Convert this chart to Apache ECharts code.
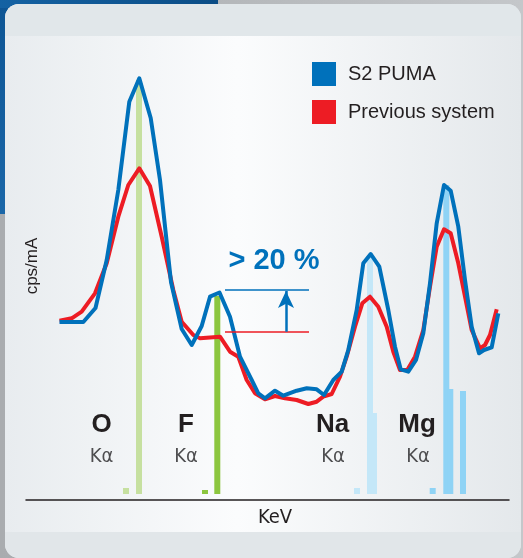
<!DOCTYPE html>
<html><head><meta charset="utf-8">
<script src="https://cdn.jsdelivr.net/npm/echarts@6/dist/echarts.min.js"></script>
<style>html,body{margin:0;padding:0;background:#bfc2c5;overflow:hidden}#c{width:523px;height:558px}</style>
</head><body><div id="c"></div>
<script>
// ---- data (channel units on the energy axis, counts on the intensity axis) ----
const seriesNames = ['S2 PUMA', 'Previous system'];
const pumaX = [59.5,83.3,95.5,106.7,118.3,129.3,139.3,150.7,160,171,181.7,191.7,201.7,210,219.5,230,240,251.7,258.3,265,275,283.3,296.7,306.7,316.7,324,333.3,341.7,348.3,356.7,363.3,370.7,379.3,388.3,395,400.7,408.3,416,423.3,430,436.7,444,450.7,458.3,465,471.7,479,484,491.7,498.3];
const pumaY = [178,178,192,240,310,398.3,421.7,382,320,218,171,155,174,203.3,207.5,183.3,143.3,120,106.7,101.7,109.3,104.3,109.3,111.7,110.7,105,120,128.3,150,190,236.7,246,233.3,190,153.3,130.7,128.3,140,166.7,216.7,276.7,315,309.3,273.3,220,173.3,146.7,150,152.7,186.7];
const prevX = [59.5,71.7,81.7,95,106.7,118.3,128.3,139.3,150,161.7,173.3,181.7,193.3,200,220,230,238.3,246.7,255,265,275,285,296.7,308.3,316.7,323.3,331.7,340,346.7,355,362.3,370,378.3,386.7,393.3,400,407.3,415,423.3,430,436.7,444,450.7,458.3,465,471.7,480,485,490,496.7];
const prevY = [179.3,181.7,188.3,206.7,236.7,283.3,315,331.7,314,263.3,210,178.3,165,161.7,163.3,148.3,143.3,120,106.7,100.7,104,101.7,100,96,98.3,103.3,106,123.3,143.3,173.3,196.7,203.3,193.3,173.3,148.3,130,130,143.3,170,213.3,253.3,270.7,266.7,236.7,203.3,170,151.7,155,165,190.7];
// emission lines: positions and heights
const oLinesX = [126, 139];            const oLinesH = [12, 420];
const fLinesX = [205, 217.3];          const fLinesH = [10, 204];
const naLinesX = [357, 370, 374];      const naLinesH = [12, 245, 87];
const mgLinesX = [432.7, 446.3, 450.3, 463]; const mgLinesH = [12, 315, 111, 109];
const elementNames = ['O', 'F', 'Na', 'Mg'];
const lineName = 'Kα';
const gainLevels = [168.3, 210];       // previous / new peak level at F
const gainSpan = [225, 309];
const gainArrowX = 286;
const gainText = '> 20 %';
const xName = 'KeV', yName = 'cps/mA';

// ---- styles ----
const BLUE = '#0071bb', RED = '#ed1c24';
const BASE = 6, BAR_W = 6;
const FONT_N = '"Liberation Sans Narrow","DejaVu Sans Condensed","Liberation Sans",sans-serif';
const FONT = '"Liberation Sans",Arial,sans-serif';

function zip(xs, ys){ return xs.map((x,i)=>[x, ys[i]]); }
function barSeries(xs, hs, color){
  return {
    type:'custom', z:1, silent:true,
    data: zip(xs, hs),
    renderItem(params, api){
      const x = api.value(0), h = api.value(1);
      const top = api.coord([x, h]);
      const bot = api.coord([x, BASE]);
      const w = api.size([BAR_W, 0])[0];
      return {type:'rect', shape:{x: top[0]-w/2, y: top[1], width: w, height: bot[1]-top[1]}, style:{fill: color}};
    }
  };
}

const chart = echarts.init(document.getElementById('c'), null, {renderer:'canvas'});

const labelPos = [[101.5,101.5],[186,186],[332.5,333],[417,418]];
const graphic = [
  {type:'rect', z:-100, silent:true, shape:{x:0,y:0,width:523,height:558}, style:{fill:new echarts.graphic.LinearGradient(0,0,1,0,[{offset:0,color:'#a9acaf'},{offset:1,color:'#c4c7ca'}])}},
  {type:'rect', z:-99, silent:true, shape:{x:0,y:0,width:8,height:214}, style:{fill:new echarts.graphic.LinearGradient(0,0,0,1,[{offset:0,color:'#0d5594'},{offset:1,color:'#1b67a8'}])}},
  {type:'rect', z:-99, silent:true, shape:{x:0,y:0,width:218,height:8}, style:{fill:new echarts.graphic.LinearGradient(0,0,1,0,[{offset:0,color:'#1462a3'},{offset:1,color:'#0b4d86'}])}},
  {type:'rect', z:-98, silent:true, shape:{x:5,y:4,width:516,height:554,r:14}, style:{fill:new echarts.graphic.LinearGradient(0,0,1,0,[{offset:0,color:'#e8ecef'},{offset:0.45,color:'#fbfcfd'},{offset:1,color:'#e4e8eb'}])}},
  {type:'rect', z:-97, silent:true, shape:{x:5,y:4,width:516,height:32,r:[14,14,0,0]}, style:{fill:'#e1e7ea'}},
  {type:'rect', z:-97, silent:true, shape:{x:5,y:532,width:516,height:26,r:[0,0,14,14]}, style:{fill:'#e1e6e9'}},
  {type:'text', z:10, silent:true, x:32.5, y:266, rotation:Math.PI/2, style:{text:yName, fill:'#231f20', font:'17px '+FONT, align:'center', verticalAlign:'middle'}},
  {type:'text', z:10, silent:true, x:274, y:261, style:{text:gainText, fill:BLUE, font:'bold 29px '+FONT, align:'center', verticalAlign:'middle'}}
];
elementNames.forEach((n,i)=>{
  graphic.push({type:'text', z:10, silent:true, x:labelPos[i][0], y:424.5, style:{text:n, fill:'#231f20', font:'bold 26px '+FONT, align:'center', verticalAlign:'middle'}});
  graphic.push({type:'text', z:10, silent:true, x:labelPos[i][1], y:457, style:{text:lineName, fill:'#4d4d4f', font:'20px '+FONT_N, align:'center', verticalAlign:'middle'}});
});

chart.setOption({
  animation:false,
  backgroundColor:'transparent',
  graphic,
  grid:{left:26, right:14, top:30, bottom:58},
  legend:{
    data:seriesNames, orient:'vertical', left:307, top:57, itemWidth:24, itemHeight:24, itemGap:14,
    icon:'rect', selectedMode:false,
    textStyle:{fontSize:20, color:'#231f20', fontFamily:FONT, padding:[0,0,0,7]}
  },
  xAxis:{type:'value', min:26, max:509, name:xName, nameLocation:'middle', nameGap:8,
    nameTextStyle:{fontSize:20, color:'#231f20', fontFamily:FONT_N, padding:[0,0,0,15]},
    axisLine:{show:true, lineStyle:{color:'#231f20', width:1.5}}, axisTick:{show:false}, axisLabel:{show:false}, splitLine:{show:false}},
  yAxis:{type:'value', min:0, max:470, axisLine:{show:false}, axisTick:{show:false}, axisLabel:{show:false}, splitLine:{show:false}},
  series:[
    barSeries(oLinesX, oLinesH, '#c6e0a0'),
    barSeries(fLinesX, fLinesH, '#8cc63f'),
    barSeries(naLinesX, naLinesH, '#c4e7f8'),
    barSeries(mgLinesX, mgLinesH, '#8fd3f5'),
    {name:seriesNames[1], type:'line', z:3, data:zip(prevX, prevY), symbol:'none', color:RED,
      lineStyle:{color:RED, width:4, join:'round'},
      markLine:{silent:true, symbol:'none', label:{show:false},
        data:[[{coord:[gainSpan[0], gainLevels[0]], lineStyle:{color:RED, width:1.5, type:'solid'}},{coord:[gainSpan[1], gainLevels[0]]}]]}},
    {name:seriesNames[0], type:'line', z:4, data:zip(pumaX, pumaY), symbol:'none', color:BLUE,
      lineStyle:{color:BLUE, width:4, join:'round'},
      markLine:{silent:true, symbol:'none', label:{show:false},
        data:[
          [{coord:[gainSpan[0], gainLevels[1]], lineStyle:{color:BLUE, width:1.5, type:'solid'}},{coord:[gainSpan[1], gainLevels[1]]}],
          [{coord:[gainArrowX, gainLevels[0]], symbol:'none', lineStyle:{color:BLUE, width:2.5, type:'solid'}},{coord:[gainArrowX, gainLevels[1]-1], symbol:'arrow', symbolSize:[12,17]}]
        ]}}
  ]
});
</script></body></html>
